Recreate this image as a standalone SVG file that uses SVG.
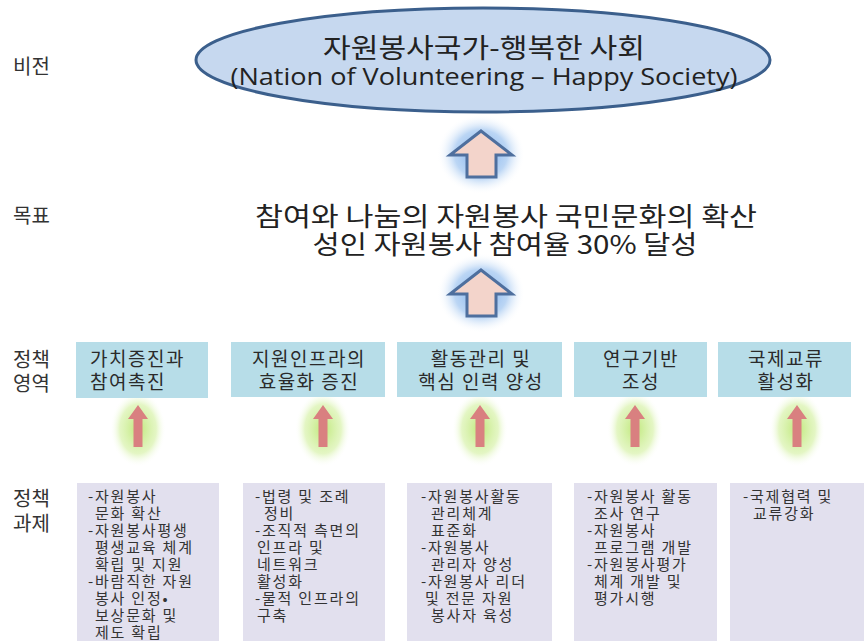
<svg xmlns="http://www.w3.org/2000/svg" width="864" height="641" viewBox="0 0 864 641">
<defs>
<style>
.lbl{font-family:"Noto Sans CJK KR","Noto Sans",sans-serif;font-size:20px;fill:#333}
.main{font-family:"Noto Sans CJK KR","Noto Sans",sans-serif;fill:#222}
.area{fill:#b7dde8}
.areat{font-family:"Noto Sans CJK KR",sans-serif;font-size:19px;letter-spacing:1.5px;fill:#2a2a2a}
.task{fill:#e2e0ee}
.taskt{font-family:"Noto Sans CJK KR",sans-serif;font-size:15px;letter-spacing:1.8px;fill:#333}
.big{fill:#f3d4cb;stroke:#4e6f9e;stroke-width:3;stroke-linejoin:miter}
.small{fill:#d98080}
</style>
<radialGradient id="blueGlow">
<stop offset="0" stop-color="#6fa6ea" stop-opacity="0.95"/>
<stop offset="0.6" stop-color="#9ec4f0" stop-opacity="0.7"/>
<stop offset="1" stop-color="#ffffff" stop-opacity="0"/>
</radialGradient>
<radialGradient id="greenGlow">
<stop offset="0" stop-color="#bfe87a" stop-opacity="1"/>
<stop offset="0.65" stop-color="#d8f2ab" stop-opacity="0.7"/>
<stop offset="1" stop-color="#ffffff" stop-opacity="0"/>
</radialGradient>
<path id="bigArrow" d="M0,0 L31,24 L15,24 L15,46 L-14,46 L-14,24 L-31,24 Z"/>
<path id="smallArrow" d="M0,0 L10,14 L4.5,14 L4.5,42 L-4.5,42 L-4.5,14 L-10,14 Z"/>
</defs>
<rect width="864" height="641" fill="#ffffff"/>

<g id="labels">
<text class="lbl" x="13" y="74">비전</text>
<text class="lbl" x="13" y="223">목표</text>
<text class="lbl" x="13" y="367">정책</text>
<text class="lbl" x="13" y="391">영역</text>
<text class="lbl" x="13" y="506">정책</text>
<text class="lbl" x="13" y="531">과제</text>
</g>

<g id="vision">
<ellipse cx="483" cy="60" rx="287" ry="52" fill="#c6d8ef" stroke="#3b5f8c" stroke-width="3"/>
<text class="main" x="484" y="58" font-size="27" text-anchor="middle" textLength="322" lengthAdjust="spacingAndGlyphs">자원봉사국가-행복한 사회</text>
<text x="484" y="85" font-family="'Open Sans','Noto Sans',sans-serif" font-size="23" fill="#222" text-anchor="middle" textLength="507" lengthAdjust="spacingAndGlyphs">(Nation of Volunteering – Happy Society)</text>
</g>

<g id="connectors">
<ellipse cx="481" cy="154" rx="44" ry="40" fill="url(#blueGlow)"/>
<use href="#bigArrow" x="481" y="131" class="big"/>
<ellipse cx="481" cy="293" rx="44" ry="40" fill="url(#blueGlow)"/>
<use href="#bigArrow" x="481" y="270" class="big"/>
<ellipse cx="138" cy="429" rx="28" ry="38" fill="url(#greenGlow)"/>
<use href="#smallArrow" x="138" y="405" class="small"/>
<ellipse cx="323" cy="429" rx="28" ry="38" fill="url(#greenGlow)"/>
<use href="#smallArrow" x="323" y="405" class="small"/>
<ellipse cx="480" cy="429" rx="28" ry="38" fill="url(#greenGlow)"/>
<use href="#smallArrow" x="480" y="405" class="small"/>
<ellipse cx="635" cy="429" rx="28" ry="38" fill="url(#greenGlow)"/>
<use href="#smallArrow" x="635" y="405" class="small"/>
<ellipse cx="797" cy="429" rx="28" ry="38" fill="url(#greenGlow)"/>
<use href="#smallArrow" x="797" y="405" class="small"/>
</g>

<g id="goal">
<text class="main" x="506" y="226" font-size="26" text-anchor="middle" textLength="502" lengthAdjust="spacingAndGlyphs">참여와 나눔의 자원봉사 국민문화의 확산</text>
<text class="main" x="505" y="254" font-size="26" text-anchor="middle" textLength="385" lengthAdjust="spacingAndGlyphs">성인 자원봉사 참여율 30% 달성</text>
</g>

<g id="area1"><rect class="area" x="76" y="342" width="132" height="56"/>
<text class="areat" x="90" y="366">가치증진과</text><text class="areat" x="90" y="389">참여촉진</text></g>
<g id="area2"><rect class="area" x="231" y="342" width="154" height="55"/>
<text class="areat" x="309" y="366" text-anchor="middle">지원인프라의</text><text class="areat" x="309" y="389" text-anchor="middle">효율화 증진</text></g>
<g id="area3"><rect class="area" x="397" y="342" width="165" height="55"/>
<text class="areat" x="481" y="366" text-anchor="middle">활동관리 및</text><text class="areat" x="481" y="389" text-anchor="middle">핵심 인력 양성</text></g>
<g id="area4"><rect class="area" x="574" y="342" width="133" height="55"/>
<text class="areat" x="641" y="366" text-anchor="middle">연구기반</text><text class="areat" x="641" y="389" text-anchor="middle">조성</text></g>
<g id="area5"><rect class="area" x="718" y="342" width="133" height="55"/>
<text class="areat" x="786" y="366" text-anchor="middle">국제교류</text><text class="areat" x="786" y="389" text-anchor="middle">활성화</text></g>

<g id="task1"><rect class="task" x="77" y="483" width="142" height="158"/>
<text class="taskt" x="88" y="502">-자원봉사</text>
<text class="taskt" x="95" y="519">문화 확산</text>
<text class="taskt" x="88" y="536">-자원봉사평생</text>
<text class="taskt" x="95" y="553">평생교육 체계</text>
<text class="taskt" x="95" y="570">확립 및 지원</text>
<text class="taskt" x="88" y="587">-바람직한 자원</text>
<text class="taskt" x="95" y="604">봉사 인정•</text>
<text class="taskt" x="95" y="621">보상문화 및</text>
<text class="taskt" x="95" y="638">제도 확립</text>
</g>
<g id="task2"><rect class="task" x="243" y="483" width="142" height="158"/>
<text class="taskt" x="255" y="502">-법령 및 조례</text>
<text class="taskt" x="264" y="519">정비</text>
<text class="taskt" x="255" y="536">-조직적 측면의</text>
<text class="taskt" x="257" y="553">인프라 및</text>
<text class="taskt" x="257" y="570">네트워크</text>
<text class="taskt" x="257" y="587">활성화</text>
<text class="taskt" x="255" y="604">-물적 인프라의</text>
<text class="taskt" x="257" y="621">구축</text>
</g>
<g id="task3"><rect class="task" x="407" y="483" width="145" height="158"/>
<text class="taskt" x="421" y="502">-자원봉사활동</text>
<text class="taskt" x="431" y="519">관리체계</text>
<text class="taskt" x="431" y="536">표준화</text>
<text class="taskt" x="421" y="553">-자원봉사</text>
<text class="taskt" x="431" y="570">관리자 양성</text>
<text class="taskt" x="421" y="587">-자원봉사 리더</text>
<text class="taskt" x="425" y="604">및 전문 자원</text>
<text class="taskt" x="431" y="621">봉사자 육성</text>
</g>
<g id="task4"><rect class="task" x="574" y="483" width="143" height="158"/>
<text class="taskt" x="587" y="502">-자원봉사 활동</text>
<text class="taskt" x="594" y="519">조사 연구</text>
<text class="taskt" x="587" y="536">-자원봉사</text>
<text class="taskt" x="594" y="553">프로그램 개발</text>
<text class="taskt" x="587" y="570">-자원봉사평가</text>
<text class="taskt" x="594" y="587">체계 개발 및</text>
<text class="taskt" x="594" y="604">평가시행</text>
</g>
<g id="task5"><rect class="task" x="730" y="483" width="134" height="158"/>
<text class="taskt" x="743" y="502">-국제협력 및</text>
<text class="taskt" x="753" y="519">교류강화</text>
</g>
</svg>
